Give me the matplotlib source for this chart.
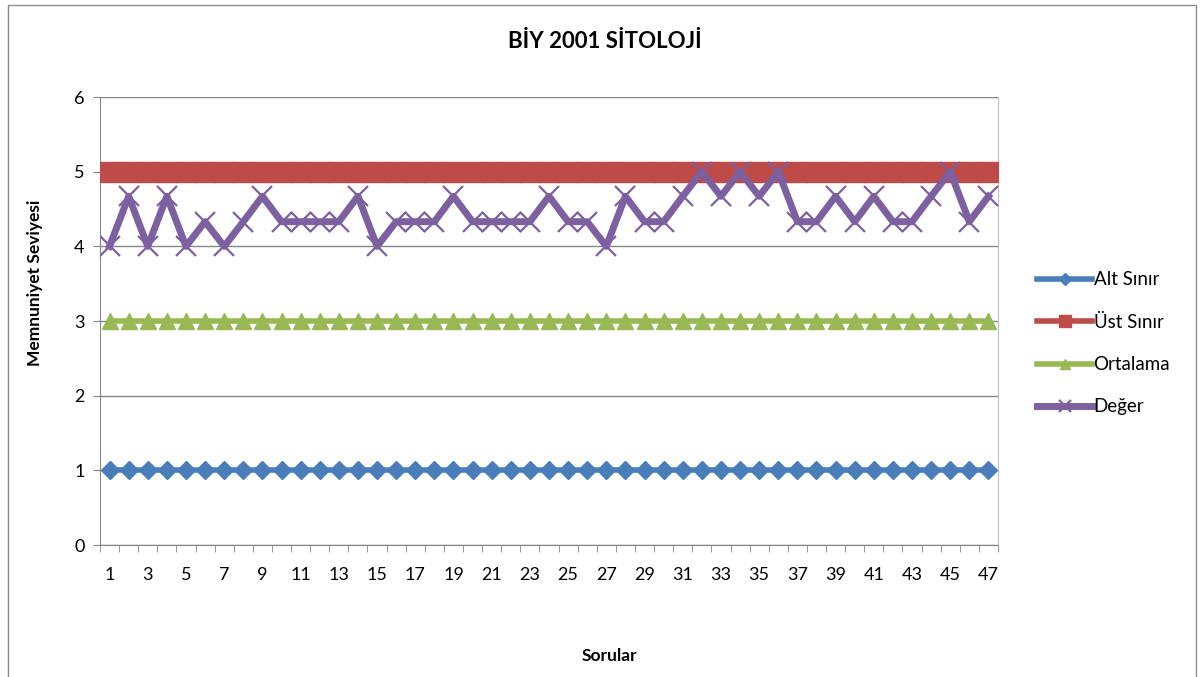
import numpy as np
import matplotlib
matplotlib.use("Agg")
import matplotlib.pyplot as plt
from matplotlib.patches import Rectangle

plt.rcParams['font.family'] = ['Lato', 'DejaVu Sans']

# data
questions = list(range(1, 48))
alt_sinir = [1] * 47
ust_sinir = [5] * 47
ortalama = [3] * 47
deger = [4, 4.67, 4, 4.67, 4, 4.33, 4, 4.33, 4.67, 4.33,
         4.33, 4.33, 4.33, 4.67, 4, 4.33, 4.33, 4.33, 4.67, 4.33,
         4.33, 4.33, 4.33, 4.67, 4.33, 4.33, 4, 4.67, 4.33, 4.33,
         4.67, 5, 4.67, 5, 4.67, 5, 4.33, 4.33, 4.67, 4.33,
         4.67, 4.33, 4.33, 4.67, 5, 4.33, 4.67]
tick_labels = [str(q) for q in questions[::2]]

W, H = 1202, 677
fig = plt.figure(figsize=(W / 100, H / 100), dpi=100)
fig.patches.append(Rectangle((8 / W, -0.01), 1188 / W, 1 - 5 / H + 0.01,
                             transform=fig.transFigure, fill=False,
                             edgecolor="#8c8c8c", linewidth=1.0))

ax = fig.add_axes([100 / W, 1 - 545 / H, 898 / W, 448 / H])

x = np.array(questions)
ax.plot(x, alt_sinir, color="#4a7ebb", lw=4, marker="D", ms=9.5,
        label="Alt Sınır", zorder=3)
ax.plot(x, ust_sinir, color="#be4b48", lw=4, marker="s", ms=14,
        label="Üst Sınır", zorder=3)
ax.plot(x, ortalama, color="#98b954", lw=4, marker="^", ms=11,
        label="Ortalama", zorder=3)
ax.plot(x, deger, color="#7d60a0", lw=5, marker="x", ms=14, mew=1.6,
        label="Değer", zorder=4)

ax.set_xlim(0.5, 47.5)
ax.set_ylim(0, 6)
ax.set_yticks(range(0, 7))
ax.set_xticks(questions[::2])
ax.set_xticklabels(tick_labels)
ax.set_xticks(np.arange(0.5, 48, 1), minor=True)
ax.tick_params(axis="x", which="major", length=0, pad=16, labelsize=13)
ax.tick_params(axis="x", which="minor", length=5, color="#868686", direction="out")
ax.tick_params(axis="y", length=5, color="#868686", labelsize=13, pad=6)

ax.grid(axis="y", color="#868686", lw=1.0)
ax.set_axisbelow(True)
ax.spines["top"].set_visible(False)
ax.spines["right"].set_color("#bfbfbf")
ax.spines["left"].set_color("#868686")
ax.spines["bottom"].set_color("#868686")

fig.text(605 / W, 1 - 42 / H, "BİY 2001 SİTOLOJİ", fontsize=16, fontweight="bold",
         ha="center", va="center")
fig.text(35 / W, 1 - 283 / H, "Memnuniyet Seviyesi", fontsize=12.5, fontweight="bold",
         rotation=90, ha="center", va="center")
fig.text(609 / W, 1 - 656 / H, "Sorular", fontsize=12.5, fontweight="bold",
         ha="center", va="center")

ax.legend(loc="center left", bbox_to_anchor=(1.025, 0.45), frameon=False,
          fontsize=13.5, handlelength=2.9, labelspacing=1.35, markerscale=0.65,
          handletextpad=0.1)

fig.savefig("out.png", dpi=100)
